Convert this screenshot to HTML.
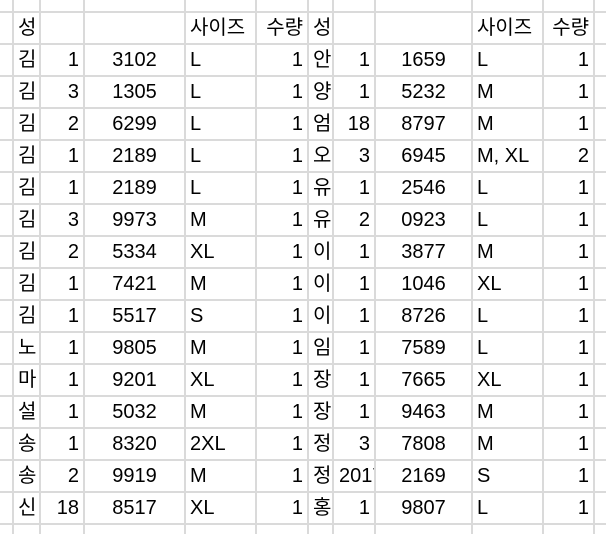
<!DOCTYPE html>
<html style="overflow:hidden;width:606px;height:534px"><head><meta charset="utf-8"><style>
body{margin:0;width:606px;height:534px;overflow:hidden;background:#fff;position:relative;font-family:"Liberation Sans","Noto Sans CJK KR",sans-serif;font-size:20px;color:#000}
.v{position:absolute;top:0;width:2px;height:534px;background:#dadada}
.h{position:absolute;left:0;height:2px;width:606px;background:#dadada}
.c{position:absolute;height:32px;line-height:33px;white-space:nowrap;overflow:hidden}
.c span{position:absolute;top:0}
</style></head><body>
<div id="grid"></div>
<div id="cells"></div>
<script>
const vx=[12,39,83,184,255,307,332,374,471,542,593];
const header=["성","","","사이즈","수량","성","","","사이즈","수량"];
const rows=[
["김","1","3102","L","1","안","1","1659","L","1"],
["김","3","1305","L","1","양","1","5232","M","1"],
["김","2","6299","L","1","엄","18","8797","M","1"],
["김","1","2189","L","1","오","3","6945","M, XL","2"],
["김","1","2189","L","1","유","1","2546","L","1"],
["김","3","9973","M","1","유","2","0923","L","1"],
["김","2","5334","XL","1","이","1","3877","M","1"],
["김","1","7421","M","1","이","1","1046","XL","1"],
["김","1","5517","S","1","이","1","8726","L","1"],
["노","1","9805","M","1","임","1","7589","L","1"],
["마","1","9201","XL","1","장","1","7665","XL","1"],
["설","1","5032","M","1","장","1","9463","M","1"],
["송","1","8320","2XL","1","정","3","7808","M","1"],
["송","2","9919","M","1","정","2017","2169","S","1"],
["신","18","8517","XL","1","홍","1","9807","L","1"]];
const align=["l","r","c","l","r","l","r","c","l","r"];
const g=document.getElementById('grid'),cs=document.getElementById('cells');
vx.forEach(x=>{const d=document.createElement('div');d.className='v';d.style.left=x+'px';

g.appendChild(d);});
for(let i=0;i<17;i++){const d=document.createElement('div');d.className='h';d.style.top=(11+32*i)+'px';

g.appendChild(d);}
[header,...rows].forEach((r,ri)=>{r.forEach((t,ci)=>{
 const x0=vx[ci]+2,x1=vx[ci+1];const d=document.createElement('div');d.className='c';
 d.style.left=x0+'px';d.style.width=(x1-x0)+'px';d.style.top=(12+32*ri)+'px';
 
 
 const s=document.createElement('span');s.textContent=t;
 if(align[ci]==='l')s.style.left='4px';
 else if(align[ci]==='r')s.style.right='4px';
 else{s.style.left='0';s.style.width='100%';s.style.textAlign='center';}
 d.appendChild(s);cs.appendChild(d);
 if(align[ci]==='r'&&s.offsetWidth>x1-x0-6){s.style.right='';s.style.left='5px';}
});});
</script>
</body></html>
